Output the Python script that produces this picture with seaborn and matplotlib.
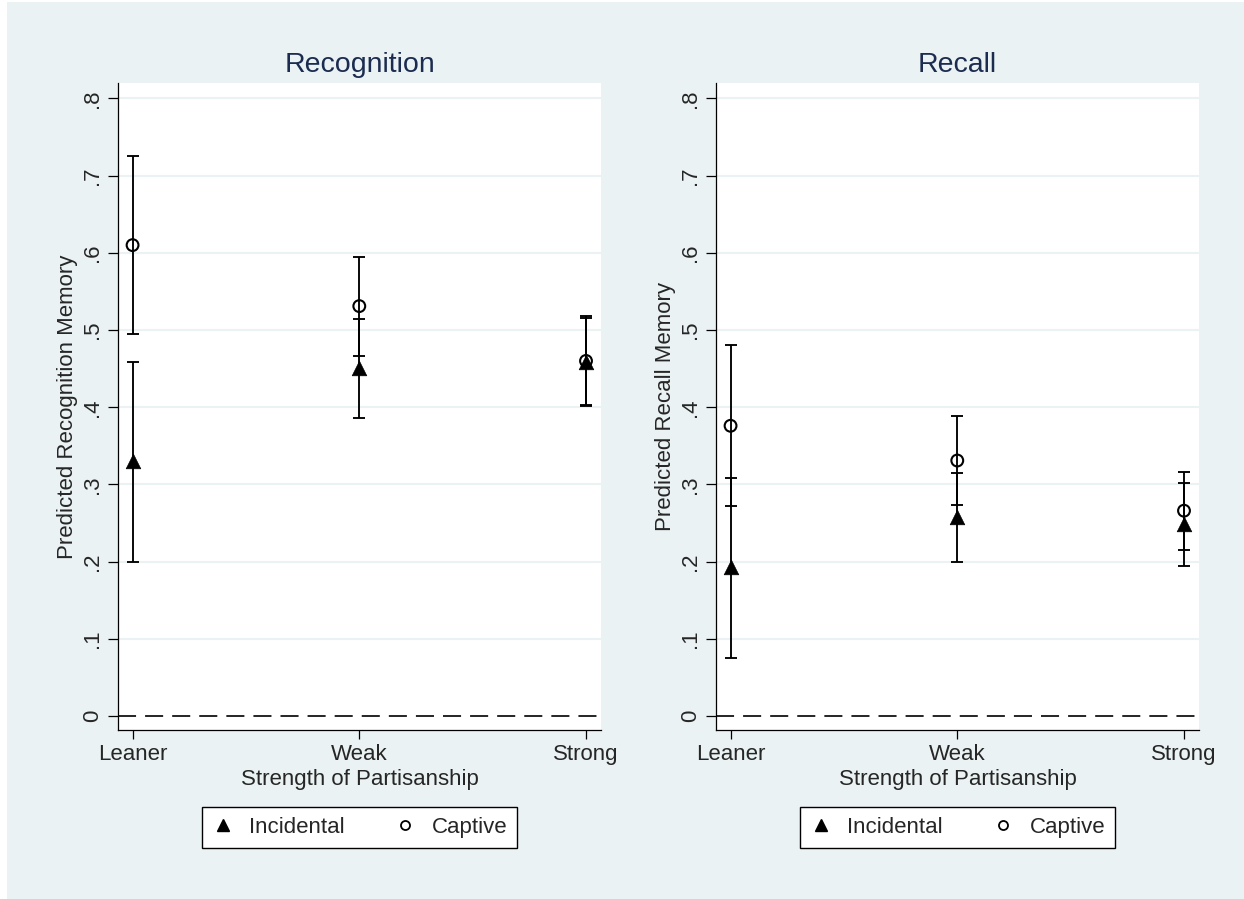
import numpy as np
import pandas as pd
import matplotlib
matplotlib.use("Agg")
import matplotlib.pyplot as plt
from matplotlib.lines import Line2D
from matplotlib.patches import Rectangle
import seaborn as sns

# Data
strength = ["Leaner", "Weak", "Strong"]
xpos = [1, 2, 3]

# Recognition panel
recog_capt_est = [0.610, 0.531, 0.460]
recog_capt_lo = [0.495, 0.466, 0.402]
recog_capt_hi = [0.726, 0.595, 0.518]
recog_inc_est = [0.330, 0.451, 0.459]
recog_inc_lo = [0.199, 0.386, 0.403]
recog_inc_hi = [0.459, 0.514, 0.515]

# Recall panel
recall_capt_est = [0.376, 0.331, 0.266]
recall_capt_lo = [0.272, 0.273, 0.215]
recall_capt_hi = [0.480, 0.389, 0.316]
recall_inc_est = [0.193, 0.258, 0.249]
recall_inc_lo = [0.075, 0.199, 0.195]
recall_inc_hi = [0.309, 0.315, 0.302]

yticks = [0, .1, .2, .3, .4, .5, .6, .7, .8]
ytick_labels = ["0", ".1", ".2", ".3", ".4", ".5", ".6", ".7", ".8"]

BG = "#EAF2F3"
NAVY = "#1C2C50"

sns.set_style("white")
plt.rcParams["font.family"] = ["Liberation Sans", "DejaVu Sans"]
plt.rcParams["lines.scale_dashes"] = False

fig = plt.figure(figsize=(12.44, 8.99), dpi=100)
fig.patch.set_facecolor("white")
fig.patches.append(Rectangle((7 / 1244, 0), 1, 1 - 2 / 899, transform=fig.transFigure,
                             facecolor=BG, edgecolor="none", zorder=-10))

panels = [
    ("Recognition", "Predicted Recognition Memory", 0.0949,
     recog_inc_est, recog_inc_lo, recog_inc_hi,
     recog_capt_est, recog_capt_lo, recog_capt_hi),
    ("Recall", "Predicted Recall Memory", 0.5756,
     recall_inc_est, recall_inc_lo, recall_inc_hi,
     recall_capt_est, recall_capt_lo, recall_capt_hi),
]

for title, ylab, left, inc_est, inc_lo, inc_hi, capt_est, capt_lo, capt_hi in panels:
    ax = fig.add_axes([left, 0.188, 0.3882, 0.7197])
    ax.set_facecolor("white")

    # gridlines + zero reference line
    for t in yticks[1:]:
        ax.axhline(t, color=BG, lw=1.5, zorder=0)
    ax.axhline(0, color="black", lw=1.2, linestyle=(0, (13, 6.5)), zorder=1)

    inc_est_a, capt_est_a = np.array(inc_est), np.array(capt_est)
    ax.errorbar(xpos, inc_est, yerr=[inc_est_a - np.array(inc_lo), np.array(inc_hi) - inc_est_a],
                fmt="none", ecolor="black", elinewidth=1.35, capsize=4.3, capthick=1.35, zorder=2)
    ax.errorbar(xpos, capt_est, yerr=[capt_est_a - np.array(capt_lo), np.array(capt_hi) - capt_est_a],
                fmt="none", ecolor="black", elinewidth=1.35, capsize=4.3, capthick=1.35, zorder=2)

    df_inc = pd.DataFrame({"x": xpos, "y": inc_est})
    df_capt = pd.DataFrame({"x": xpos, "y": capt_est})
    sns.scatterplot(data=df_inc, x="x", y="y", marker="^", s=110, color="black",
                    edgecolor="black", linewidth=0.5, ax=ax, zorder=3, legend=False)
    sns.scatterplot(data=df_capt, x="x", y="y", marker="o", s=72, facecolor="none",
                    edgecolor="black", linewidth=1.5, ax=ax, zorder=4, legend=False)

    ax.set_xlim(0.936, 3.066)
    ax.set_ylim(-0.018, 0.820)
    ax.set_xticks(xpos)
    ax.set_xticklabels(strength)
    ax.set_yticks(yticks)
    ax.set_yticklabels(ytick_labels, rotation=90, va="center")

    for s in ["top", "right"]:
        ax.spines[s].set_visible(False)
    for s in ["left", "bottom"]:
        ax.spines[s].set_color("black")
        ax.spines[s].set_linewidth(0.9)

    ax.tick_params(axis="x", direction="out", length=6.5, width=0.9, color="black",
                   labelsize=16, pad=3.5, bottom=True)
    ax.tick_params(axis="y", direction="out", length=7, width=0.9, color="black",
                   labelsize=16, pad=4, left=True)

    ax.set_xlabel("Strength of Partisanship", fontsize=16)
    ax.xaxis.set_label_coords(0.5, -0.060)
    ax.set_ylabel(ylab, fontsize=16)
    ax.yaxis.set_label_coords(-0.083, 0.5)
    ax.set_title(title, fontsize=20.5, color=NAVY, pad=8)

    handles = [
        Line2D([], [], marker="^", color="black", linestyle="none", markersize=9),
        Line2D([], [], marker="o", markerfacecolor="none", markeredgecolor="black",
               markeredgewidth=1.3, linestyle="none", markersize=6.5),
    ]
    leg = ax.legend(handles, ["Incidental", "Captive"], loc="center",
                    bbox_to_anchor=(0.5, -0.151), ncol=2, fontsize=16, frameon=True,
                    fancybox=False, framealpha=1, edgecolor="black", handlelength=1.0,
                    handletextpad=0.7, columnspacing=2.2, borderpad=0.45)
    leg.get_frame().set_linewidth(1.0)

fig.savefig("out.png", dpi=100)
